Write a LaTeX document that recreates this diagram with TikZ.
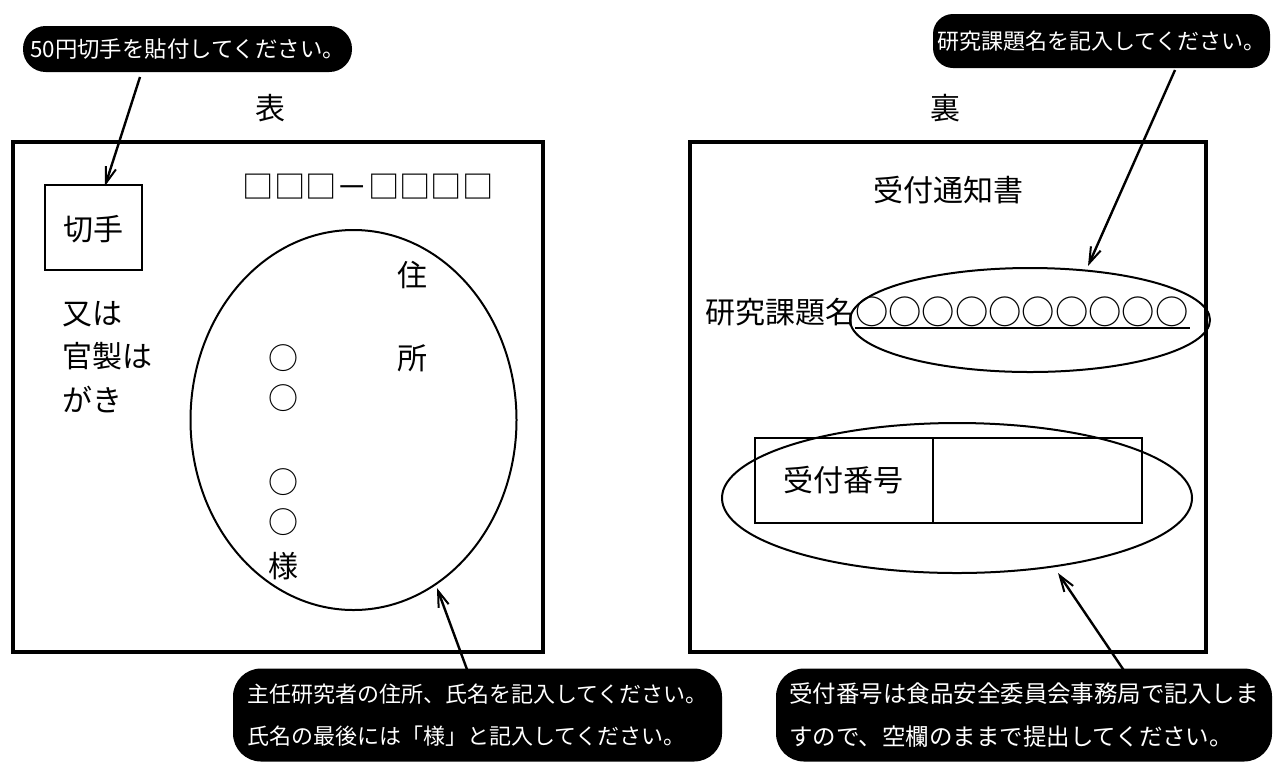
\documentclass[tikz,border=0pt]{standalone}
\usepackage{fontspec}
\setmainfont{Noto Sans CJK JP}
\usetikzlibrary{arrows.meta,shapes.geometric}
\tikzset{
  body/.style={inner sep=0pt,font=\fontsize{22.5}{32.5}\selectfont},
  callout/.style={fill=black,text=white,inner sep=0pt,font=\fontsize{16.5}{32}\selectfont},
  frame/.style={line width=2.3pt},
  ring/.style={draw,ellipse,line width=1.5pt,inner sep=0pt},
  thinbox/.style={line width=1.2pt},
  pointer/.style={line width=1.8pt,-{Straight Barb[length=12pt,width=8pt,line width=1.5pt]}}
}
\begin{document}
\begin{tikzpicture}[x=0.75pt,y=-0.75pt]
\useasboundingbox (0,0) rectangle (1276,765);

% ---------- front side ----------
\node[body] (omote) at (270,108) {表};
\draw[frame] (13,142) rectangle (543,652);
\node[draw,thinbox,minimum width=72.75pt,minimum height=63.75pt,inner sep=0pt] (stamp) at (93.5,227.5) {};
\node[body] (stamptxt) at (93.5,229) {切手};
\node[body,align=left,anchor=west] (kansei) at (62,357) {又は\\官製は\\がき};
\node[inner sep=0pt,font=\fontsize{23.5}{30}\selectfont] (zip) at (368,187) {□□□－□□□□};
\node[ring,minimum width=244.5pt,minimum height=285pt] (addr) at (353.5,420) {};
\node[body] (ju) at (412,275) {住};
\node[body] (sho) at (412,358) {所};
\node[body] (m1) at (283,358) {○};
\node[body] (m2) at (283,398) {○};
\node[body] (m3) at (283,482) {○};
\node[body] (m4) at (283,522) {○};
\node[body] (sama) at (283,566) {様};

% ---------- back side ----------
\node[body] (ura) at (945,108) {裏};
\draw[frame] (690,142) rectangle (1206,652);
\node[body] (tsuchi) at (948,190) {受付通知書};
\node[body,anchor=west] (kadai) at (705,312) {研究課題名};
\node[inner sep=0pt,font=\fontsize{25}{30}\selectfont,anchor=west] (maru) at (855,312) {○○○○○○○○○○};
\draw[line width=1.5pt] (855,328) -- (1190,328);
\node[ring,minimum width=270pt,minimum height=78pt] (titleEll) at (1030,320) {};
\node[draw,thinbox,minimum width=133.5pt,minimum height=63.75pt,inner sep=0pt] (rcell) at (844,480.5) {};
\node[draw,thinbox,minimum width=156.75pt,minimum height=63.75pt,inner sep=0pt] (vcell) at (1037.5,480.5) {};
\node[body] (uketsuke) at (843,480) {受付番号};
\node[ring,minimum width=352.5pt,minimum height=112.5pt] (numEll) at (957,498) {};

% ---------- callouts ----------
\node[callout,rounded corners=17pt,minimum width=246.75pt,minimum height=34.5pt,font=\fontsize{16.8}{32}\selectfont] (c1) at (187.5,49) {50円切手を貼付してください。};
\node[callout,rounded corners=15pt,minimum width=252.75pt,minimum height=40.5pt] (c3) at (1101.5,41) {研究課題名を記入してください。};
\node[callout,rounded corners=21pt,minimum width=366.75pt,minimum height=69.75pt,align=left] (c2) at (477.5,715) {主任研究者の住所、氏名を記入してください。\\氏名の最後には「様」と記入してください。};
\node[callout,rounded corners=21pt,minimum width=372pt,minimum height=69.75pt,align=left,font=\fontsize{17.6}{32}\selectfont] (c4) at (1024,715) {受付番号は食品安全委員会事務局で記入しま\\すので、空欄のままで提出してください。};

% ---------- pointers ----------
\coordinate (p1s) at (140,77);
\coordinate (p1e) at (105,186);
\coordinate (p3s) at (1175,70);
\coordinate (p3e) at (1088,266);
\coordinate (p2s) at (472,683);
\coordinate (p2e) at (437,588);
\coordinate (p4s) at (1125,672);
\coordinate (p4e) at (1058,573);
\draw[pointer] (p1s) -- (p1e);
\draw[pointer] (p3s) -- (p3e);
\draw[pointer] (p2s) -- (p2e);
\draw[pointer] (p4s) -- (p4e);
\end{tikzpicture}
\end{document}
